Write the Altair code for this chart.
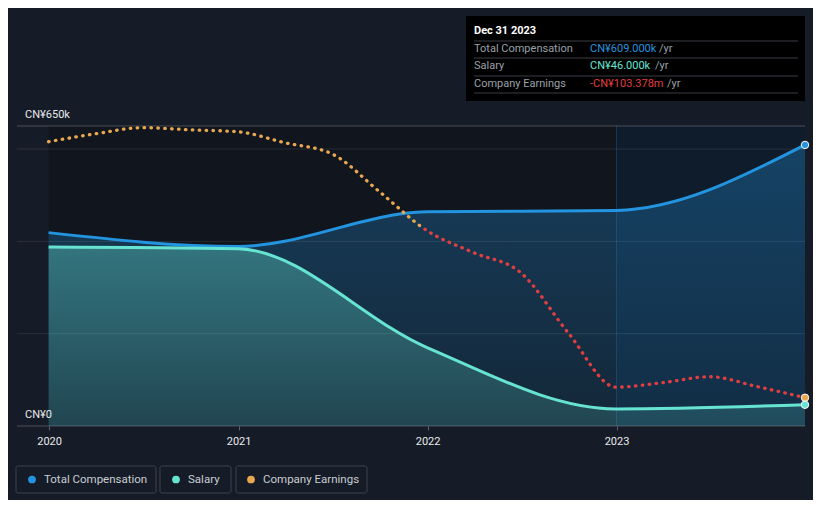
import altair as alt
import pandas as pd

# ---------------- data ----------------
comp_dates = ["2019-12-31", "2020-12-31", "2021-12-31", "2022-12-31", "2023-12-31"]
total_comp = [419000, 389000, 464000, 467000, 609000]
salary = [388000, 384000, 170000, 37000, 46000]

earn_dates = ["2019-12-31", "2020-03-31", "2020-06-30", "2020-09-30", "2020-12-31",
              "2021-03-31", "2021-06-30", "2021-09-30", "2021-12-31",
              "2022-03-31", "2022-06-30", "2022-09-30", "2022-12-31",
              "2023-03-31", "2023-06-30", "2023-09-30", "2023-12-31"]
earnings_m = [51.4, 56.2, 59.9, 58.6, 57.4, 50.8, 44.1, 21.2, -2.4,
              -15.7, -27.8, -64.3, -97.0, -94.3, -90.7, -96.7, -103.378]

grid_values = [200000, 400000, 600000]
edge_values = [0, 650000]
y_label_values = [0, 650000]
y_label_text = ["CN¥0", "CN¥650k"]
x_years = [2020, 2021, 2022, 2023]
band_starts = ["2019-12-31", "2023-01-01"]
band_ends = ["2023-01-01", "2023-12-31"]

tooltip_title = "Dec 31 2023"
tooltip_names = ["Total Compensation", "Salary", "Company Earnings"]
tooltip_values = ["CN¥609.000k", "CN¥46.000k", "-CN¥103.378m"]
legend_names = ["Total Compensation", "Salary", "Company Earnings"]

# ---------------- style ----------------
BG = "#161c27"
BLUE = "#2394df"
TEAL = "#67e4d1"
ORANGE = "#e8a84f"
RED = "#e23d40"
FONT = "Roboto"

comp_df = pd.DataFrame({"date": comp_dates, "total": total_comp, "salary": salary})
earn_df = pd.DataFrame({"date": earn_dates, "earn": earnings_m})

x_scale = alt.Scale(type="utc", domain=[alt.DateTime(year=2019, month=10, date=31, utc=True),
                                        alt.DateTime(year=2023, month=12, date=31, utc=True)])
x_axis = alt.Axis(values=[alt.DateTime(year=y, month=1, date=1, utc=True) for y in x_years],
                  format="%Y", labelColor="#e8eaed", labelFontSize=11, labelFont=FONT,
                  tickColor="#5b606a", tickSize=4, labelPadding=5, domain=False, grid=False,
                  labelFlush=False)
X = alt.X("date:T", scale=x_scale, axis=x_axis, title=None)
comp_scale = alt.Scale(domain=[0, 650000], nice=False, zero=False)
earn_scale = alt.Scale(domain=[-120.5, 60.9], nice=False, zero=False)

# background bands
band_df = pd.DataFrame({"start": band_starts, "end": band_ends, "kind": ["past", "last"]})
bands = alt.Chart(band_df).mark_rect().encode(
    x=alt.X("start:T", scale=x_scale, axis=x_axis, title=None),
    x2="end:T",
    y=alt.value(0), y2=alt.value(300),
    color=alt.Color("kind:N", scale=alt.Scale(domain=["past", "last"], range=["#11151d", "#0f1c2b"]), legend=None),
)
vline = alt.Chart(pd.DataFrame({"date": [band_starts[1]]})).mark_rule(color="#1b3550", strokeWidth=1).encode(
    x=X, y=alt.value(0), y2=alt.value(300))

blue_fill = alt.Gradient(gradient="linear", x1=0, x2=0, y1=0, y2=1, stops=[
    alt.GradientStop(color="rgba(35,148,223,0.32)", offset=0),
    alt.GradientStop(color="rgba(35,148,223,0.14)", offset=1)])
teal_fill = alt.Gradient(gradient="linear", x1=0, x2=0, y1=0, y2=1, stops=[
    alt.GradientStop(color="rgba(103,228,209,0.36)", offset=0),
    alt.GradientStop(color="rgba(103,228,209,0.16)", offset=1)])

comp_base = alt.Chart(comp_df)
total_area = comp_base.mark_area(interpolate="monotone", color=blue_fill).encode(
    x=X, y=alt.Y("total:Q", scale=comp_scale, axis=None))
salary_area = comp_base.mark_area(interpolate="monotone", color=teal_fill).encode(
    x=X, y=alt.Y("salary:Q", scale=comp_scale, axis=None))

grid = alt.Chart(pd.DataFrame({"v": grid_values})).mark_rule(color="rgba(255,255,255,0.09)", strokeWidth=1).encode(
    y=alt.Y("v:Q", scale=comp_scale, axis=None))
edges = alt.Chart(pd.DataFrame({"v": edge_values})).mark_rule(color="rgba(255,255,255,0.22)", strokeWidth=1).encode(
    y=alt.Y("v:Q", scale=comp_scale, axis=None))

total_line = comp_base.mark_line(interpolate="monotone", color=BLUE, strokeWidth=3).encode(
    x=X, y=alt.Y("total:Q", scale=comp_scale, axis=None))
salary_line = comp_base.mark_line(interpolate="monotone", color=TEAL, strokeWidth=3).encode(
    x=X, y=alt.Y("salary:Q", scale=comp_scale, axis=None))

earn_grad = alt.Gradient(gradient="linear", x1=0, x2=1, y1=0, y2=0, stops=[
    alt.GradientStop(color=ORANGE, offset=0), alt.GradientStop(color=ORANGE, offset=0.492),
    alt.GradientStop(color=RED, offset=0.492), alt.GradientStop(color=RED, offset=1)])
earn_line = alt.Chart(earn_df).mark_line(interpolate="monotone", color=earn_grad, strokeWidth=3.3,
                                         strokeDash=[0.5, 6.4], strokeCap="round").encode(
    x=X, y=alt.Y("earn:Q", scale=earn_scale, axis=None))

last_comp = pd.DataFrame({"date": [comp_dates[-1]], "total": [total_comp[-1]], "salary": [salary[-1]]})
last_earn = pd.DataFrame({"date": [earn_dates[-1]], "earn": [earnings_m[-1]]})
dot_kw = dict(size=55, opacity=1, stroke="#ffffff", strokeWidth=1)
total_dot = alt.Chart(last_comp).mark_circle(color=BLUE, **dot_kw).encode(
    x=X, y=alt.Y("total:Q", scale=comp_scale, axis=None))
earn_dot = alt.Chart(last_earn).mark_circle(color=ORANGE, **dot_kw).encode(
    x=X, y=alt.Y("earn:Q", scale=earn_scale, axis=None))
salary_dot = alt.Chart(last_comp).mark_circle(color=TEAL, **dot_kw).encode(
    x=X, y=alt.Y("salary:Q", scale=comp_scale, axis=None))

ylabels = alt.Chart(pd.DataFrame({"v": y_label_values, "t": y_label_text})).mark_text(
    align="left", baseline="alphabetic", dy=-8, fontSize=11, font=FONT, color="#e8eaed").encode(
    x=alt.value(8), y=alt.Y("v:Q", scale=comp_scale, axis=None), text="t:N")

one = pd.DataFrame({"a": [0]})


def txt(s, x, y, color, size=11, weight="normal", align="left"):
    return alt.Chart(pd.DataFrame({"t": [s]})).mark_text(
        align=align, baseline="middle", fontSize=size, font=FONT, color=color, fontWeight=weight).encode(
        x=alt.value(x), y=alt.value(y), text="t:N")


# tooltip box (positions relative to plot origin at page (17,126))
tip_box = alt.Chart(one).mark_rect(color="#000000").encode(
    x=alt.value(449), x2=alt.value(788), y=alt.value(-110), y2=alt.value(-25))
tip_layers = [tip_box]
for yy in [-85, -68, -50, -33]:
    tip_layers.append(alt.Chart(one).mark_rule(color="#3a3d42", strokeWidth=1).encode(
        x=alt.value(457), x2=alt.value(781), y=alt.value(yy)))
tip_layers.append(txt(tooltip_title, 457, -95, "#ffffff", weight="bold"))
row_y = [-77, -60, -42.5]
val_colors = [BLUE, TEAL, RED]
yr_x = [642, 638, 650]
for name, val, c, yy, xx in zip(tooltip_names, tooltip_values, val_colors, row_y, yr_x):
    tip_layers.append(txt(name, 457, yy, "#9aa0a8"))
    tip_layers.append(txt(val, 573, yy, c))
    tip_layers.append(txt("/yr", xx, yy, "#9aa0a8"))

# legend
leg_layers = []
box_x = [(-1, 139), (143, 214), (219, 350)]
dot_x = [15, 159, 234]
text_x = [27, 171, 246]
leg_colors = [BLUE, TEAL, ORANGE]
for (bx1, bx2), dx, tx, name, c in zip(box_x, dot_x, text_x, legend_names, leg_colors):
    leg_layers.append(alt.Chart(one).mark_rect(fill=BG, stroke="#3d434e", strokeWidth=1, cornerRadius=2).encode(
        x=alt.value(bx1), x2=alt.value(bx2), y=alt.value(340), y2=alt.value(367)))
    leg_layers.append(alt.Chart(one).mark_circle(color=c, size=60, opacity=1).encode(
        x=alt.value(dx), y=alt.value(353.5)))
    leg_layers.append(txt(name, tx, 353.5, "#c9cdd3", size=11.5))

chart = alt.layer(
    bands, vline, total_area, salary_area, grid, edges, total_line, salary_line, earn_line,
    total_dot, earn_dot, salary_dot, ylabels, *tip_layers, *leg_layers
).resolve_scale(y="independent").properties(
    width=788, height=300,
    padding={"left": 9, "top": 118, "right": 8, "bottom": 74},
    autosize=alt.AutoSizeParams(type="none"),
    background=BG,
).configure_view(stroke=None)

chart.save("out.html", embed_options={"renderer": "svg", "actions": False})
